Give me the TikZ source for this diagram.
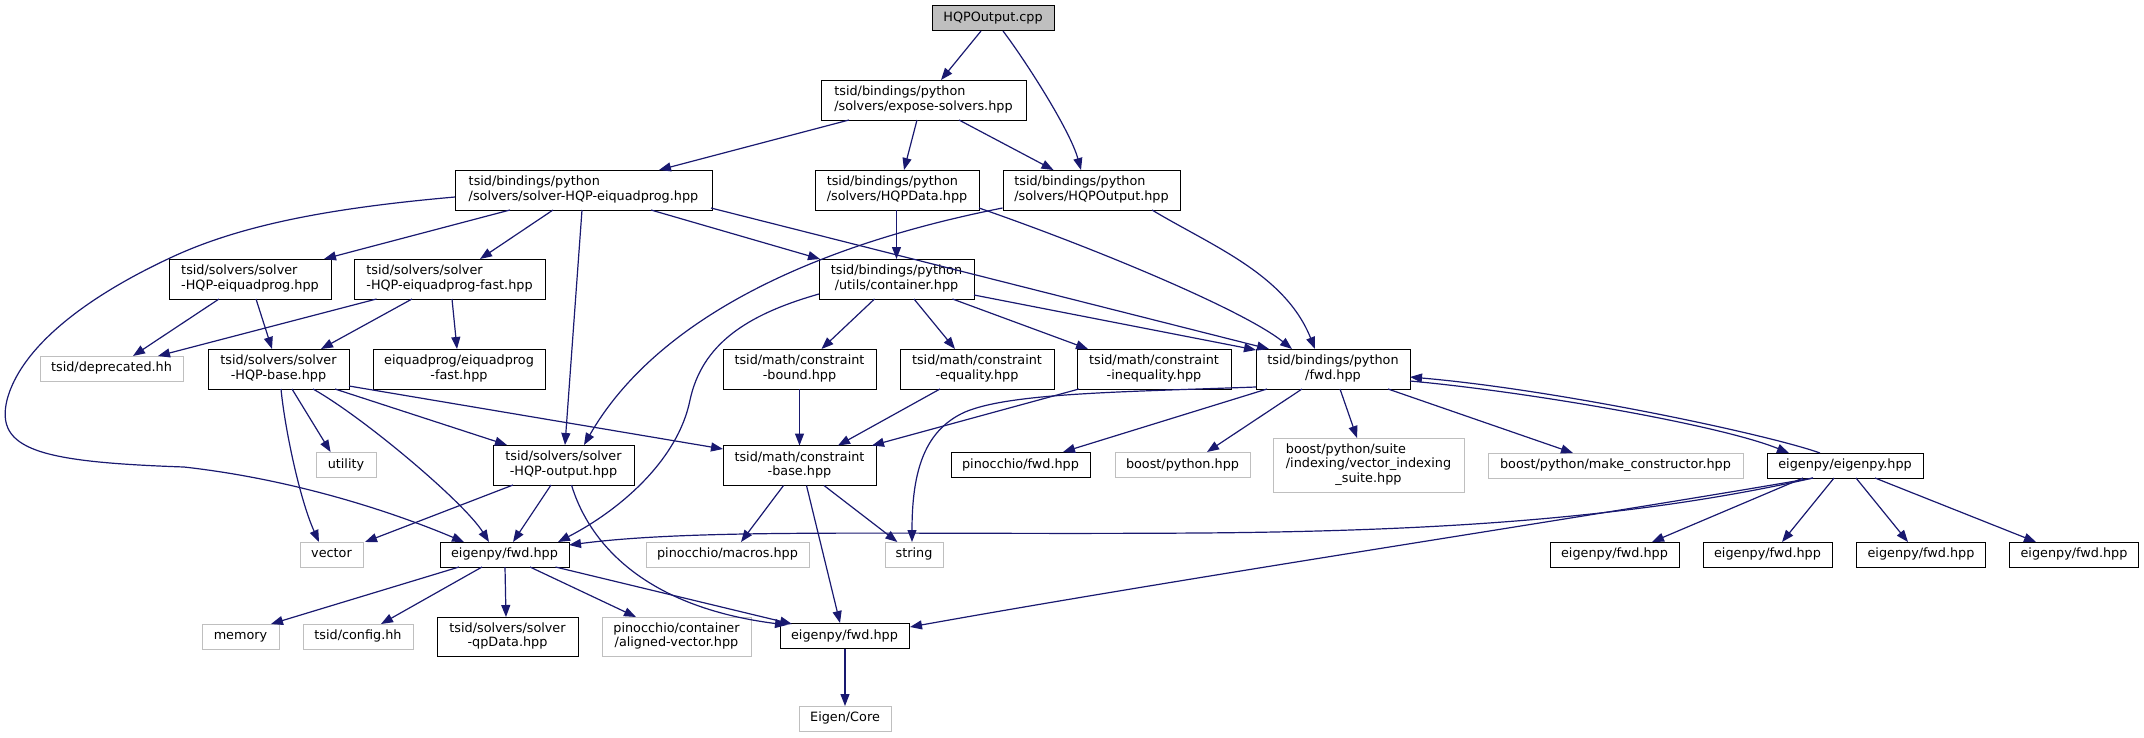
\documentclass[tikz,border=0pt]{standalone}
\usepackage{fontspec}
\setmainfont{DejaVu Sans}
\usetikzlibrary{arrows.meta}
\definecolor{edgecol}{RGB}{25,25,112}
\definecolor{greyline}{RGB}{191,191,191}
\newcommand\fs{\fontsize{12.8pt}{14.3pt}\selectfont}
\newcommand\twol[2]{\begin{tabular}{@{}l@{}}#1\\\multicolumn{1}{@{}c@{}}{#2}\end{tabular}}
\tikzset{
  basebox/.style={draw=black, line width=1pt, fill=white, inner sep=0pt, font=\fs, text=black},
  docbox/.style={basebox},
  extbox/.style={basebox, draw=greyline},
  rootbox/.style={basebox, fill=greyline},
  one/.style={minimum height=25pt, text height=9.5pt, text depth=3pt},
  two/.style={minimum height=40pt},
  three/.style={minimum height=54pt},
  edge/.style={draw=edgecol, line width=1.2pt, -{Triangle[length=12pt,width=9pt]}},
}
\begin{document}
\begin{tikzpicture}[x=1pt,y=-1pt]
\useasboundingbox (0,0) rectangle (2144,737);
% row 1-2
\node[rootbox,one,minimum width=122pt] (n0) at (993,18) {HQPOutput.cpp};
\node[docbox,two,minimum width=205pt] (n1) at (923.5,100) {\twol{tsid/bindings/python}{/solvers/expose-solvers.hpp}};
% row 3
\node[docbox,two,minimum width=257pt] (n2) at (583.5,190) {\twol{tsid/bindings/python}{/solvers/solver-HQP-eiquadprog.hpp}};
\node[docbox,two,minimum width=164pt] (n3) at (897,190) {\twol{tsid/bindings/python}{/solvers/HQPData.hpp}};
\node[docbox,two,minimum width=177pt] (n4) at (1091.5,190) {\twol{tsid/bindings/python}{/solvers/HQPOutput.hpp}};
% row 4
\node[docbox,two,minimum width=162pt] (n5) at (250,279) {\twol{tsid/solvers/solver}{-HQP-eiquadprog.hpp}};
\node[docbox,two,minimum width=191pt] (n6) at (449.5,279) {\twol{tsid/solvers/solver}{-HQP-eiquadprog-fast.hpp}};
\node[docbox,two,minimum width=155pt] (n7) at (896.5,279) {\twol{tsid/bindings/python}{/utils/container.hpp}};
% row 5
\node[extbox,one,minimum width=143pt] (n8) at (111.5,368.5) {tsid/deprecated.hh};
\node[docbox,two,minimum width=141pt] (n9) at (278.5,369) {\twol{tsid/solvers/solver}{-HQP-base.hpp}};
\node[docbox,two,minimum width=172pt] (n10) at (459,369) {\twol{eiquadprog/eiquadprog}{-fast.hpp}};
\node[docbox,two,minimum width=153pt] (n11) at (799.5,369) {\twol{tsid/math/constraint}{-bound.hpp}};
\node[docbox,two,minimum width=154pt] (n12) at (977,369) {\twol{tsid/math/constraint}{-equality.hpp}};
\node[docbox,two,minimum width=154pt] (n13) at (1154,369) {\twol{tsid/math/constraint}{-inequality.hpp}};
\node[docbox,two,minimum width=154pt] (n14) at (1333,369) {\twol{tsid/bindings/python}{/fwd.hpp}};
% row 6
\node[extbox,one,minimum width=60pt] (n15) at (346,465) {utility};
\node[docbox,two,minimum width=141pt] (n16) at (563.5,465) {\twol{tsid/solvers/solver}{-HQP-output.hpp}};
\node[docbox,two,minimum width=153pt] (n17) at (799.5,465.5) {\twol{tsid/math/constraint}{-base.hpp}};
\node[docbox,one,minimum width=139pt] (n18) at (1020.5,465) {pinocchio/fwd.hpp};
\node[extbox,one,minimum width=135pt] (n19) at (1182.5,465) {boost/python.hpp};
\node[extbox,three,minimum width=191pt] (n20) at (1368.5,465) {\twol{boost/python/suite\\/indexing/vector\_indexing}{\_suite.hpp}};
\node[extbox,one,minimum width=255pt] (n21) at (1615.5,465.5) {boost/python/make\_constructor.hpp};
\node[docbox,one,minimum width=156pt] (n22) at (1845,465.5) {eigenpy/eigenpy.hpp};
% row 7
\node[extbox,one,minimum width=63pt] (n23) at (331.5,554.5) {vector};
\node[docbox,one,minimum width=129pt] (n24) at (504.5,554.5) {eigenpy/fwd.hpp};
\node[extbox,one,minimum width=163pt] (n25) at (727.5,554.5) {pinocchio/macros.hpp};
\node[extbox,one,minimum width=58pt] (n26) at (914,554.5) {string};
\node[docbox,one,minimum width=129pt] (n27) at (1614.5,554.5) {eigenpy/fwd.hpp};
\node[docbox,one,minimum width=129pt] (n28) at (1767.5,554.5) {eigenpy/fwd.hpp};
\node[docbox,one,minimum width=129pt] (n29) at (1921,554.5) {eigenpy/fwd.hpp};
\node[docbox,one,minimum width=129pt] (n30) at (2074,554.5) {eigenpy/fwd.hpp};
% row 8
\node[extbox,one,minimum width=77pt] (n31) at (240.5,636.5) {memory};
\node[extbox,one,minimum width=110pt] (n32) at (358,636.5) {tsid/config.hh};
\node[docbox,minimum height=39pt,minimum width=141pt] (n33) at (507.5,636.5) {\twol{tsid/solvers/solver}{-qpData.hpp}};
\node[extbox,minimum height=39pt,minimum width=149pt] (n34) at (676.5,636.5) {\twol{pinocchio/container}{/aligned-vector.hpp}};
\node[docbox,one,minimum width=129pt] (n35) at (844.5,636) {eigenpy/fwd.hpp};
% row 9
\node[extbox,one,minimum width=92pt] (n36) at (845,718.5) {Eigen/Core};

% edges
\draw[edge] ([shift={(-12,13)}]n0.center) -- ([shift={(17.5,-20)}]n1.center);
\draw[edge] ([shift={(10,13)}]n0.center) .. controls (1025,60) and (1070,130) .. ([shift={(-10.5,-20)}]n4.center);
\draw[edge] ([shift={(-74.5,20)}]n1.center) -- ([shift={(75.5,-20)}]n2.center);
\draw[edge] ([shift={(-6.5,20)}]n1.center) -- ([shift={(7,-20)}]n3.center);
\draw[edge] ([shift={(35.5,20)}]n1.center) -- ([shift={(-38,-20)}]n4.center);
\draw[edge] ([shift={(-73.5,20)}]n2.center) -- ([shift={(74,-20)}]n5.center);
\draw[edge] ([shift={(-30.5,20)}]n2.center) -- ([shift={(30.5,-20)}]n6.center);
\draw[edge] ([shift={(-1.5,20)}]n2.center) -- ([shift={(1.5,-20)}]n16.center);
\draw[edge] ([shift={(67.5,20)}]n2.center) -- ([shift={(-76.5,-20)}]n7.center);
\draw[edge] ([shift={(127.5,18)}]n2.center) -- ([shift={(-64,-20)}]n14.center);
\draw[edge] ([shift={(-0.5,20)}]n3.center) -- ([shift={(0,-20)}]n7.center);
\draw[edge] ([shift={(82,18)}]n3.center) .. controls (1089,246) and (1242,309) .. ([shift={(-41,-20)}]n14.center);
\draw[edge] ([shift={(60.5,20)}]n4.center) .. controls (1212,246) and (1285,274) .. ([shift={(-18,-20)}]n14.center);
\draw[edge] ([shift={(-89,18)}]n4.center) .. controls (790,250) and (650,330) .. ([shift={(20.5,-20)}]n16.center);
\draw[edge] ([shift={(-31,20)}]n5.center) -- ([shift={(21.5,-12.5)}]n8.center);
\draw[edge] ([shift={(6,20)}]n5.center) -- ([shift={(-6.5,-20)}]n9.center);
\draw[edge] ([shift={(-73,20)}]n6.center) -- ([shift={(46.5,-12.5)}]n8.center);
\draw[edge] ([shift={(-37.5,20)}]n6.center) -- ([shift={(42.5,-20)}]n9.center);
\draw[edge] ([shift={(2.5,20)}]n6.center) -- ([shift={(-2,-20)}]n10.center);
\draw[edge] ([shift={(-22,20)}]n7.center) -- ([shift={(22,-20)}]n11.center);
\draw[edge] ([shift={(17.5,20)}]n7.center) -- ([shift={(-22,-20)}]n12.center);
\draw[edge] ([shift={(56,20)}]n7.center) -- ([shift={(-66,-20)}]n13.center);
\draw[edge] ([shift={(77.5,16)}]n7.center) -- ([shift={(-77,-19)}]n14.center);
\draw[edge] ([shift={(-77.5,15)}]n7.center) .. controls (745,315) and (702,345) .. (690,400) .. controls (678,460) and (620,510) .. ([shift={(53.5,-12.5)}]n24.center);
\draw[edge] ([shift={(2.5,20)}]n9.center) .. controls (285,430) and (300,500) .. ([shift={(-12.5,-12.5)}]n23.center);
\draw[edge] ([shift={(13.5,20)}]n9.center) -- ([shift={(-15.4,-13)}]n15.center);
\draw[edge] ([shift={(34.5,20)}]n9.center) .. controls (363,417) and (464,502) .. ([shift={(-15.5,-12.5)}]n24.center);
\draw[edge] ([shift={(56.5,20)}]n9.center) -- ([shift={(-56.5,-20)}]n16.center);
\draw[edge] ([shift={(70.5,17)}]n9.center) -- ([shift={(-76.5,-16.5)}]n17.center);
\draw[edge] ([shift={(-128.5,7)}]n2.center) .. controls (330,208) and (240,225) .. (170,258) .. controls (80,300) and (20,350) .. (7,400) .. controls (-5,450) and (40,462) .. (184,467) .. controls (300,480) and (400,515) .. ([shift={(-40.5,-12.5)}]n24.center);
\draw[edge] ([shift={(-50.5,20)}]n16.center) -- ([shift={(33.5,-12.5)}]n23.center);
\draw[edge] ([shift={(-12.5,20)}]n16.center) -- ([shift={(8.5,-12.5)}]n24.center);
\draw[edge] ([shift={(8,20)}]n16.center) .. controls (585,530) and (630,605) .. ([shift={(-57.5,-11)}]n35.center);
\draw[edge] ([shift={(51,12.5)}]n24.center) -- ([shift={(-52.5,-12)}]n35.center);
\draw[edge] ([shift={(-45.5,12.5)}]n24.center) -- ([shift={(30.5,-12.5)}]n31.center);
\draw[edge] ([shift={(-22.5,12.5)}]n24.center) -- ([shift={(23,-12.5)}]n32.center);
\draw[edge] ([shift={(0.5,12.5)}]n24.center) -- ([shift={(-1.5,-19.5)}]n33.center);
\draw[edge] ([shift={(25.5,12.5)}]n24.center) -- ([shift={(-40.5,-19.5)}]n34.center);
\draw[edge] ([shift={(-16,20)}]n17.center) -- ([shift={(13.5,-12.5)}]n25.center);
\draw[edge] ([shift={(24.5,20)}]n17.center) -- ([shift={(-16.6,-12.5)}]n26.center);
\draw[edge] ([shift={(7,20)}]n17.center) -- ([shift={(-4.5,-13)}]n35.center);
\draw[edge] ([shift={(0,20)}]n11.center) -- ([shift={(0,-20)}]n17.center);
\draw[edge] ([shift={(-37,20)}]n12.center) -- ([shift={(38.5,-20)}]n17.center);
\draw[edge] ([shift={(-75,20)}]n13.center) -- ([shift={(72.5,-20)}]n17.center);
\draw[edge] ([shift={(-77,18)}]n14.center) .. controls (1120,392) and (1010,393) .. (965,412) .. controls (925,430) and (912,470) .. ([shift={(-2,-12.5)}]n26.center);
\draw[edge] ([shift={(-66,20)}]n14.center) -- ([shift={(42.5,-13)}]n18.center);
\draw[edge] ([shift={(-31,20)}]n14.center) -- ([shift={(24.5,-13)}]n19.center);
\draw[edge] ([shift={(7,20)}]n14.center) -- ([shift={(-11.5,-27)}]n20.center);
\draw[edge] ([shift={(55,20)}]n14.center) -- ([shift={(-42.5,-12.5)}]n21.center);
\draw[edge] ([shift={(77,12)}]n14.center) .. controls (1530,392) and (1720,425) .. ([shift={(-56,-12.5)}]n22.center);
\draw[edge] ([shift={(-25,-12.5)}]n22.center) .. controls (1770,435) and (1560,390) .. ([shift={(77,8)}]n14.center);
\draw[edge] ([shift={(-32,12.5)}]n22.center) .. controls (1640,517) and (1450,531) .. (1200,533) .. controls (900,535) and (700,528) .. ([shift={(64.5,-9.5)}]n24.center);
\draw[edge] ([shift={(-32,12.5)}]n22.center) .. controls (1600,515) and (1200,575) .. ([shift={(65.5,-9)}]n35.center);
\draw[edge] ([shift={(-42,12.5)}]n22.center) -- ([shift={(37.5,-12.5)}]n27.center);
\draw[edge] ([shift={(-11,12.5)}]n22.center) -- ([shift={(14.5,-12.5)}]n28.center);
\draw[edge] ([shift={(11,12.5)}]n22.center) -- ([shift={(-13,-12.5)}]n29.center);
\draw[edge] ([shift={(30,12.5)}]n22.center) -- ([shift={(-38,-12.5)}]n30.center);
\draw[edge] ([shift={(0.5,13)}]n35.center) -- ([shift={(0,-12.5)}]n36.center);
\end{tikzpicture}
\end{document}
